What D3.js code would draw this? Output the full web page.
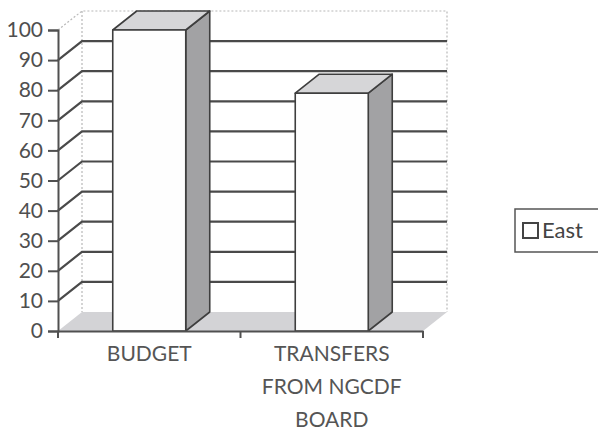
<!DOCTYPE html>
<html>
<head>
<meta charset="utf-8">
<script src="https://cdn.jsdelivr.net/npm/d3@7"></script>
<style>
  body { margin: 0; background: #fff; }
  text { font-family: Lato, "Open Sans", sans-serif; }
</style>
</head>
<body>
<div id="chart-area"></div>
<script>
// chart data
const categories = ["BUDGET", "TRANSFERS FROM NGCDF BOARD"];
const seriesName = "East";
const eastValues = [100, 79];
const yTicks = [0, 10, 20, 30, 40, 50, 60, 70, 80, 90, 100];

const W = 598, H = 441;
const plotLeft = 58, plotRight = 423, plotBottom = 331, plotTop = 30;
// 3d depth offset
const dx = 24, dy = -19;

const svg = d3.select("#chart-area")
  .append("svg")
    .attr("width", W)
    .attr("height", H);

svg.append("rect").attr("width", W).attr("height", H).attr("fill", "#fff");

const x = d3.scaleBand()
  .domain(categories)
  .range([plotLeft, plotRight])
  .padding(0);

const y = d3.scaleLinear()
  .domain([0, 100])
  .range([plotBottom, plotTop]);

const ymax = y(100);

// floor
svg.append("polygon")
  .attr("points", [[plotLeft, plotBottom], [plotRight, plotBottom], [plotRight + dx, plotBottom + dy], [plotLeft + dx, plotBottom + dy]].join(" "))
  .attr("fill", "#d3d3d6");

// wall edges (light dotted)
const edge = svg.append("g")
  .attr("stroke", "#b8b8b8")
  .attr("stroke-width", 1.2)
  .attr("stroke-dasharray", "2,2")
  .attr("fill", "none");
edge.append("path").attr("d", `M${plotLeft},${ymax}L${plotLeft + dx},${ymax + dy}H${plotRight + dx}V${plotBottom + dy}`);
edge.append("path").attr("d", `M${plotLeft + dx},${ymax + dy}V${plotBottom + dy}`);

// gridlines on back + left wall
const grid = svg.append("g")
  .attr("stroke", "#4a4a4a")
  .attr("stroke-width", 2.2)
  .attr("fill", "none");
yTicks.filter(t => t > 0 && t < 100).forEach(t => {
  grid.append("path")
    .attr("d", `M${plotLeft},${y(t)}L${plotLeft + dx},${y(t) + dy}H${plotRight + dx}`);
});

// bars
const barW = x.bandwidth() * 0.4;
const bars = svg.selectAll(".bar")
  .data(categories.map((c, i) => ({ c: c, v: eastValues[i] })))
  .enter()
  .append("g")
    .attr("class", "bar")
    .attr("stroke", "#3e3e3e")
    .attr("stroke-width", 1.6)
    .attr("stroke-linejoin", "round");

bars.each(function(d) {
  const g = d3.select(this);
  const xl = x(d.c) + (x.bandwidth() - barW) / 2;
  const xr = xl + barW;
  const yt = y(d.v);
  g.append("polygon")
    .attr("points", [[xr, yt], [xr + dx, yt + dy], [xr + dx, plotBottom + dy], [xr, plotBottom]].join(" "))
    .attr("fill", "#a2a2a4");
  g.append("polygon")
    .attr("points", [[xl, yt], [xr, yt], [xr + dx, yt + dy], [xl + dx, yt + dy]].join(" "))
    .attr("fill", "#d6d6d8");
  g.append("rect")
    .attr("x", xl)
    .attr("y", yt)
    .attr("width", barW)
    .attr("height", plotBottom - yt)
    .attr("fill", "#fefefe");
});

// y axis
const yAxis = svg.append("g")
  .attr("transform", `translate(${plotLeft},0)`)
  .call(d3.axisLeft(y).tickValues(yTicks).tickSize(10).tickPadding(5));
yAxis.select(".domain").attr("stroke", "#505050").attr("stroke-width", 2);
yAxis.selectAll(".tick line").attr("stroke", "#505050").attr("stroke-width", 2);
yAxis.selectAll(".tick text")
  .attr("font-size", "21px")
  .attr("fill", "#4f4f4f")
  .attr("font-family", "Lato, sans-serif");

// x axis line + boundary ticks
const xAxis = svg.append("g")
  .attr("transform", `translate(0,${plotBottom})`)
  .call(d3.axisBottom(x).tickSize(0).tickPadding(15));
xAxis.select(".domain").attr("stroke", "#505050").attr("stroke-width", 2);
const bounds = categories.map(c => x(c)).concat([x(categories[categories.length - 1]) + x.bandwidth()]);
xAxis.selectAll(".bound")
  .data(bounds)
  .enter()
  .append("line")
    .attr("class", "bound")
    .attr("x1", d => d).attr("x2", d => d)
    .attr("y1", 0).attr("y2", 7)
    .attr("stroke", "#505050")
    .attr("stroke-width", 2);

// wrap category labels
function wrap(sel, width) {
  sel.each(function() {
    const text = d3.select(this);
    const words = text.text().split(/\s+/);
    const yy = +text.attr("y");
    text.text(null);
    let line = [];
    let n = 0;
    let tspan = text.append("tspan").attr("x", 0).attr("y", yy).attr("dy", "0.71em");
    words.forEach(w => {
      line.push(w);
      tspan.text(line.join(" "));
      if (tspan.node().getComputedTextLength() > width && line.length > 1) {
        line.pop();
        tspan.text(line.join(" "));
        line = [w];
        n++;
        tspan = text.append("tspan").attr("x", 0).attr("y", yy + n * 33).attr("dy", "0.71em").text(w);
      }
    });
  });
}
xAxis.selectAll(".tick text")
  .attr("font-size", "21px")
  .attr("fill", "#555")
  .attr("font-family", "Lato, sans-serif")
  .call(wrap, 150);

// legend
const legend = svg.append("g").attr("transform", "translate(515,209)");
legend.append("rect")
  .attr("width", 100).attr("height", 43)
  .attr("fill", "#fff")
  .attr("stroke", "#555")
  .attr("stroke-width", 1.5);
legend.append("rect")
  .attr("x", 8).attr("y", 14)
  .attr("width", 15).attr("height", 15)
  .attr("fill", "#fff")
  .attr("stroke", "#444")
  .attr("stroke-width", 2);
legend.append("text")
  .attr("x", 27).attr("y", 29)
  .attr("font-size", "22px")
  .attr("fill", "#444")
  .text(seriesName);
</script>
</body>
</html>
